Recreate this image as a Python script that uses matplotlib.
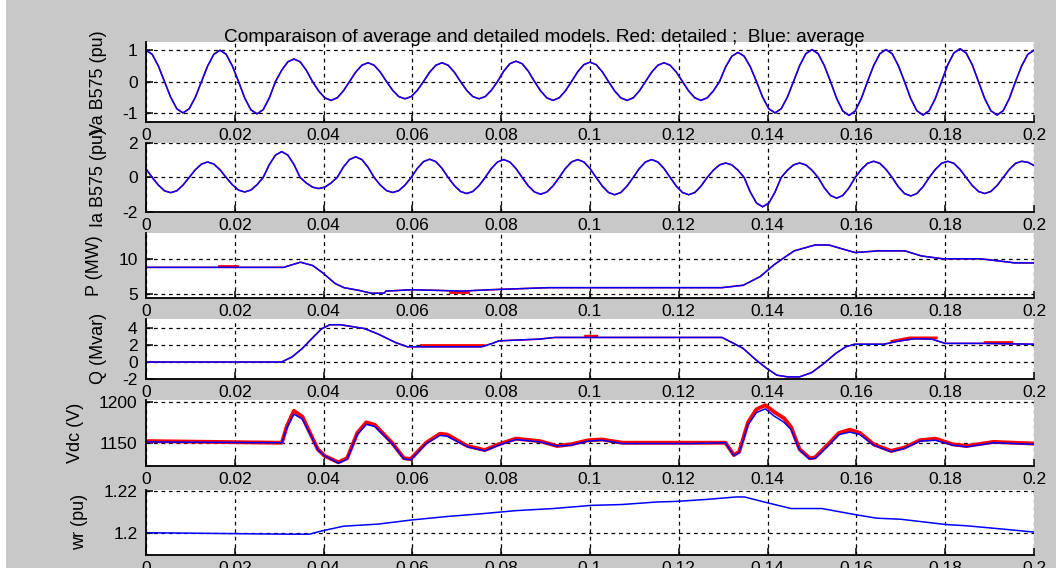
import matplotlib
matplotlib.use('Agg')
import matplotlib.pyplot as plt
from matplotlib.patches import Rectangle
import numpy as np

plt.rcParams['font.family'] = ['Liberation Sans', 'DejaVu Sans']

# Va at B575 (pu), read every 1/720 s (12 points per 60 Hz cycle)
va = [1.0, 0.87, 0.5, 0, -0.5, -0.87, -1.0, -0.87, -0.5, 0, 0.5, 0.87,
      1.0, 0.87, 0.5, 0, -0.52, -0.9, -1.03, -0.9, -0.52, 0, 0.36, 0.63,
      0.72, 0.63, 0.36, 0, -0.3, -0.52, -0.6, -0.52, -0.3, 0, 0.3, 0.52,
      0.6, 0.52, 0.3, 0, -0.28, -0.48, -0.55, -0.48, -0.28, 0, 0.3, 0.52,
      0.6, 0.52, 0.3, 0, -0.28, -0.48, -0.55, -0.48, -0.28, 0, 0.33, 0.57,
      0.65, 0.57, 0.33, 0, -0.3, -0.52, -0.6, -0.52, -0.3, 0, 0.31, 0.54,
      0.62, 0.54, 0.31, 0, -0.3, -0.52, -0.6, -0.52, -0.3, 0, 0.3, 0.52,
      0.6, 0.52, 0.3, 0, -0.3, -0.52, -0.6, -0.52, -0.3, 0, 0.47, 0.81,
      0.93, 0.81, 0.47, 0, -0.5, -0.87, -1.0, -0.87, -0.5, 0, 0.51, 0.89,
      1.02, 0.89, 0.51, 0, -0.54, -0.94, -1.08, -0.94, -0.54, 0, 0.51, 0.89,
      1.02, 0.89, 0.51, 0, -0.54, -0.93, -1.07, -0.93, -0.54, 0, 0.53, 0.91,
      1.05, 0.91, 0.53, 0, -0.54, -0.93, -1.07, -0.93, -0.54, 0, 0.5, 0.87,
      1.0]

# Ia at B575 (pu), same 1/720 s sampling
ia = [0.5, 0, -0.44, -0.77,
      -0.88, -0.77, -0.44, 0, 0.45, 0.78, 0.9, 0.78, 0.45, 0, -0.42, -0.73,
      -0.84, -0.73, -0.42, 0, 0.75, 1.3, 1.5, 1.3, 0.75, 0, -0.32, -0.56,
      -0.64, -0.56, -0.32, 0, 0.6, 1.04, 1.2, 1.04, 0.6, 0, -0.44, -0.76,
      -0.87, -0.76, -0.44, 0, 0.53, 0.92, 1.06, 0.92, 0.53, 0, -0.47, -0.81,
      -0.93, -0.81, -0.47, 0, 0.52, 0.9, 1.04, 0.9, 0.52, 0, -0.49, -0.84,
      -0.97, -0.84, -0.49, 0, 0.52, 0.9, 1.04, 0.9, 0.52, 0, -0.5, -0.87,
      -1.0, -0.87, -0.5, 0, 0.52, 0.9, 1.04, 0.9, 0.52, 0, -0.5, -0.87,
      -1.0, -0.87, -0.5, 0, 0.42, 0.73, 0.84, 0.73, 0.42, 0, -0.85, -1.48,
      -1.7, -1.48, -0.85, 0, 0.42, 0.73, 0.84, 0.73, 0.42, 0, -0.6, -1.04,
      -1.2, -1.04, -0.6, 0, 0.47, 0.82, 0.94, 0.82, 0.47, 0, -0.54, -0.93,
      -1.07, -0.93, -0.54, 0, 0.47, 0.82, 0.94, 0.82, 0.47, 0, -0.47, -0.81,
      -0.93, -0.81, -0.47, 0, 0.47, 0.82, 0.94, 0.88, 0.7]

wave_t = np.arange(len(va)) / 720.0

# active power P (MW)
p_t = [0, 0.017, 0.020, 0.031, 0.0348, 0.0376, 0.0399, 0.0426, 0.0446, 0.048,
       0.0507, 0.0537, 0.054, 0.06, 0.066, 0.071, 0.0775, 0.0906, 0.1297, 0.1345,
       0.1383, 0.1415, 0.1437, 0.146, 0.1507, 0.1538, 0.157, 0.1597, 0.165, 0.1709,
       0.1747, 0.1794, 0.1878, 0.1925, 0.1957, 0.2]
p_avg = [8.85, 8.85, 8.85, 8.85, 9.6, 9.1, 8.0, 6.5, 5.9, 5.5,
         5.1, 5.1, 5.4, 5.6, 5.5, 5.4, 5.6, 5.9, 5.9, 6.25,
         7.5, 9.25, 10.25, 11.25, 12.1, 12.1, 11.5, 11.0, 11.25, 11.25,
         10.5, 10.1, 10.1, 9.75, 9.5, 9.5]
p_det_t = [0.0165, 0.0205, np.nan, 0.0685, 0.0725]
p_det = [9.05, 9.05, np.nan, 5.3, 5.3]

# reactive power Q (Mvar)
q_t = [0, 0.0305, 0.0329, 0.0352, 0.0376, 0.0395, 0.0414, 0.0438, 0.0492, 0.0523,
       0.0562, 0.0589, 0.0756, 0.078, 0.0795, 0.0885, 0.0921, 0.1297, 0.132, 0.1345,
       0.1375, 0.1398, 0.1421, 0.1445, 0.1472, 0.1499, 0.1526, 0.1553, 0.1576, 0.1596,
       0.1662, 0.1693, 0.1731, 0.177, 0.18, 0.1887, 0.2]
q_avg = [0, 0, 0.6, 1.6, 2.9, 3.9, 4.4, 4.4, 3.95, 3.3,
         2.3, 1.8, 1.8, 2.2, 2.5, 2.7, 2.9, 2.9, 2.3, 1.6,
         0.2, -0.75, -1.55, -1.75, -1.75, -1.25, -0.2, 1.0, 1.8, 2.1,
         2.1, 2.45, 2.75, 2.7, 2.2, 2.2, 2.1]
q_det_t = [0.062, 0.076, np.nan, 0.099, 0.1015, np.nan, 0.168, 0.172, 0.178, np.nan, 0.189, 0.195]
q_det = [1.95, 1.95, np.nan, 3.05, 3.05, np.nan, 2.45, 2.85, 2.85, np.nan, 2.3, 2.3]

# DC bus voltage (V)
vdc_t = [0, 0.0306, 0.0317, 0.0333, 0.0352, 0.0372, 0.0387, 0.0402, 0.0433, 0.0453,
         0.0476, 0.0496, 0.0515, 0.0554, 0.0581, 0.0596, 0.0631, 0.0662, 0.0678, 0.0724,
         0.0763, 0.0794, 0.0833, 0.0887, 0.0926, 0.0957, 0.0996, 0.1027, 0.1073, 0.1228,
         0.1305, 0.1324, 0.1336, 0.1356, 0.1375, 0.1395, 0.1414, 0.1437, 0.1453, 0.1472,
         0.1495, 0.1507, 0.1538, 0.1561, 0.1585, 0.1608, 0.1639, 0.1678, 0.1708, 0.1743,
         0.1778, 0.1817, 0.1848, 0.1909, 0.2]
vdc_avg = [1151, 1150, 1168, 1185, 1179, 1158, 1141, 1134, 1125, 1130,
           1160, 1172.5, 1170, 1149, 1130, 1129, 1149, 1159, 1158, 1145,
           1140, 1147, 1154, 1151, 1146, 1147, 1152, 1153, 1149, 1149,
           1150, 1134, 1138, 1172, 1187, 1191.5, 1183, 1175, 1166, 1141,
           1130, 1131, 1147, 1160, 1163, 1160, 1147, 1139, 1143, 1152,
           1153, 1147, 1145, 1150, 1148]
vdc_det = [1152, 1150, 1170, 1189, 1182, 1159, 1142, 1134, 1126, 1131,
           1162, 1175, 1172, 1150, 1131, 1130, 1150, 1161, 1160, 1146,
           1141, 1148, 1155, 1152, 1146, 1148, 1153, 1154, 1150, 1150,
           1150, 1135, 1139, 1175, 1191, 1196, 1188, 1180, 1169, 1142,
           1131, 1132, 1149, 1162, 1166, 1162, 1148, 1140, 1144, 1153,
           1155, 1148, 1146, 1151, 1149]

# rotor speed wr (pu)
wr_t = [0, 0.0317, 0.0368, 0.0395, 0.0445, 0.0523, 0.06, 0.0678, 0.0755, 0.0833,
        0.0918, 0.1003, 0.1072, 0.115, 0.1196, 0.1267, 0.1329, 0.1348, 0.1398, 0.1453,
        0.1522, 0.16, 0.1646, 0.17, 0.1801, 0.1848, 0.1941, 0.2]
wr = [1.2, 1.1993, 1.1993, 1.2008, 1.2031, 1.2041, 1.2061, 1.2077, 1.209, 1.2105,
      1.2115, 1.2130, 1.2134, 1.2146, 1.2149, 1.2159, 1.2170, 1.2170, 1.2143, 1.2115,
      1.2115, 1.2085, 1.2069, 1.2064, 1.2039, 1.2033, 1.2015, 1.2003]

xticks = [0, 0.02, 0.04, 0.06, 0.08, 0.1, 0.12, 0.14, 0.16, 0.18, 0.2]
xticklabels = ['0', '0.02', '0.04', '0.06', '0.08', '0.1', '0.12', '0.14', '0.16', '0.18', '0.2']

W, H = 1056, 568
fig = plt.figure(figsize=(W / 100, H / 100), dpi=100, facecolor='#c8c8c8')
# thin white strip along the left edge of the screenshot
fig.add_artist(Rectangle((0, 0), 6 / W, 1, transform=fig.transFigure,
                         facecolor='white', edgecolor='none', zorder=-1))

left, right = 146, 1034
# (top px, bottom px, ylim, yticks, yticklabels, ylabel)
panels = [
    (42.4, 122.3, (-1.3, 1.25), [-1, 0, 1], ['-1', '0', '1'], 'Va B575 (pu)'),
    (143, 212, (-2, 2), [-2, 0, 2], ['-2', '0', '2'], 'Ia B575 (pu)'),
    (232.6, 298, (4.4, 13.9), [5, 10], ['5', '10'], 'P (MW)'),
    (318.8, 379, (-2, 5.1), [-2, 0, 2, 4], ['-2', '0', '2', '4'], 'Q (Mvar)'),
    (400.3, 466.4, (1121, 1202), [1150, 1200], ['1150', '1200'], 'Vdc (V)'),
    (489.6, 555, (1.1894, 1.2205), [1.2, 1.22], ['1.2', '1.22'], 'wr (pu)'),
]

dash = (0, (3, 3))
axes = []
for top, bot, ylim, yt, ytl, ylab in panels:
    ax = fig.add_axes([left / W, 1 - bot / H, (right - left) / W, (bot - top) / H])
    ax.set_facecolor('white')
    ax.set_xlim(0, 0.2)
    ax.set_ylim(*ylim)
    ax.set_xticks(xticks)
    ax.set_xticklabels(xticklabels)
    ax.set_yticks(yt)
    ax.set_yticklabels(ytl)
    ax.set_ylabel(ylab, fontsize=13, labelpad=11)
    ax.spines['top'].set_visible(False)
    ax.spines['right'].set_visible(False)
    ax.spines['left'].set_linewidth(1.3)
    ax.spines['bottom'].set_linewidth(1.3)
    ax.tick_params(direction='in', length=5, width=1.1, labelsize=12.5)
    ax.tick_params(axis='y', pad=6)
    ax.tick_params(axis='x', pad=4)
    ax.grid(True, color='black', linestyle=dash, linewidth=0.9)
    ax.set_axisbelow(True)
    axes.append(ax)

blue = '#0000ff'
red = '#ff0000'

axes[0].plot(wave_t, va, color=red, lw=1.1)
axes[0].plot(wave_t, va, color=blue, lw=1.1)

axes[1].plot(wave_t, ia, color=red, lw=1.1)
axes[1].plot(wave_t, ia, color=blue, lw=1.1)

axes[2].plot(p_det_t, p_det, color=red, lw=2.0)
axes[2].plot(p_t, p_avg, color=red, lw=1.1)
axes[2].plot(p_t, p_avg, color=blue, lw=1.1)

axes[3].plot(q_det_t, q_det, color=red, lw=2.0)
axes[3].plot(q_t, q_avg, color=red, lw=1.1)
axes[3].plot(q_t, q_avg, color=blue, lw=1.1)

axes[4].plot(vdc_t, vdc_det, color=red, lw=2.8)
axes[4].plot(vdc_t, vdc_avg, color=blue, lw=1.1)

axes[5].plot(wr_t, wr, color=blue, lw=1.1)

fig.text(544.5 / W, 1 - 38 / H, 'Comparaison of average and detailed models. Red: detailed ;  Blue: average',
         ha='center', va='center', fontsize=13.7)

fig.savefig('out.png', dpi=100, facecolor=fig.get_facecolor())
